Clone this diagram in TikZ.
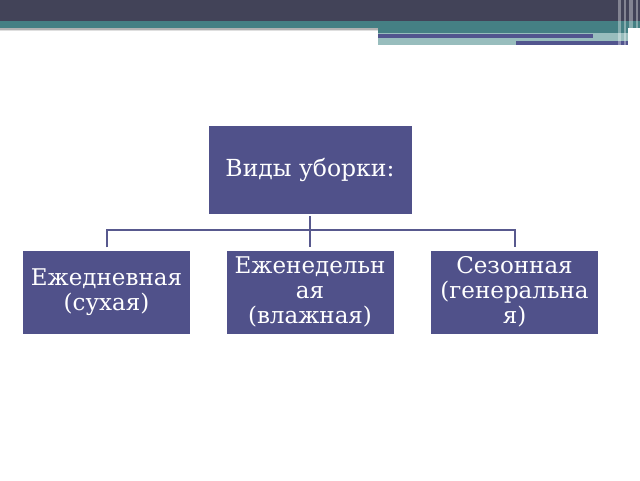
\documentclass[tikz,border=0pt]{standalone}
\usepackage{fontspec}
\setmainfont{DejaVu Serif}
\definecolor{boxblue}{RGB}{80,81,138}
\definecolor{linkblue}{RGB}{88,89,142}
\definecolor{topdark}{RGB}{66,67,88}
\definecolor{teal}{RGB}{69,128,132}
\definecolor{paleteal}{RGB}{152,189,189}
\definecolor{barblue}{RGB}{82,85,142}
\tikzset{
  kind/.style={fill=boxblue,text=white,minimum width=167pt,minimum height=83pt,
    inner sep=0pt,align=center,font=\fontsize{23}{25}\selectfont},
  link/.style={draw=linkblue,line width=2pt}
}
\begin{document}
\begin{tikzpicture}[x=1pt,y=-1pt]
\useasboundingbox (0,0) rectangle (640,480);
% banner
\fill[topdark](0,0) rectangle (640,21);
\fill[teal](0,21) rectangle (640,28);
\fill[teal](378,28) rectangle (628,33);
\fill[gray!60](0,28) rectangle (378,30);
\fill[gray!25](0,30) rectangle (378,31);
\fill[paleteal](378,33) rectangle (628,45);
\fill[barblue](378,34) rectangle (593,38);
\fill[barblue](516,41) rectangle (628,45);
\foreach \x/\w in {618/3,624/2,629/4,636/2}
  \fill[white,opacity=.35](\x,0) rectangle (\x+\w,46);

% boxes
\node[kind,minimum width=203pt,minimum height=88pt,font=\fontsize{23.5}{25}\selectfont](top) at (310,170){Виды уборки:};
\node[kind](daily) at (106.5,292){Ежедневная\\(сухая)};
\node[kind](weekly) at (310,292){Еженедельн\\ая\\(влажная)};
\node[kind](season) at (514.5,292){Сезонная\\(генеральна\\я)};

% connectors
\coordinate (fork) at (310,232.5);
\draw[link]([yshift=-2pt]top.south)--(fork);
\draw[link]([yshift=3pt]daily.north)|-([yshift=3pt]season.north|-fork)--([yshift=3pt]season.north);
\draw[link](fork)--([yshift=3pt]weekly.north);
\end{tikzpicture}
\end{document}
